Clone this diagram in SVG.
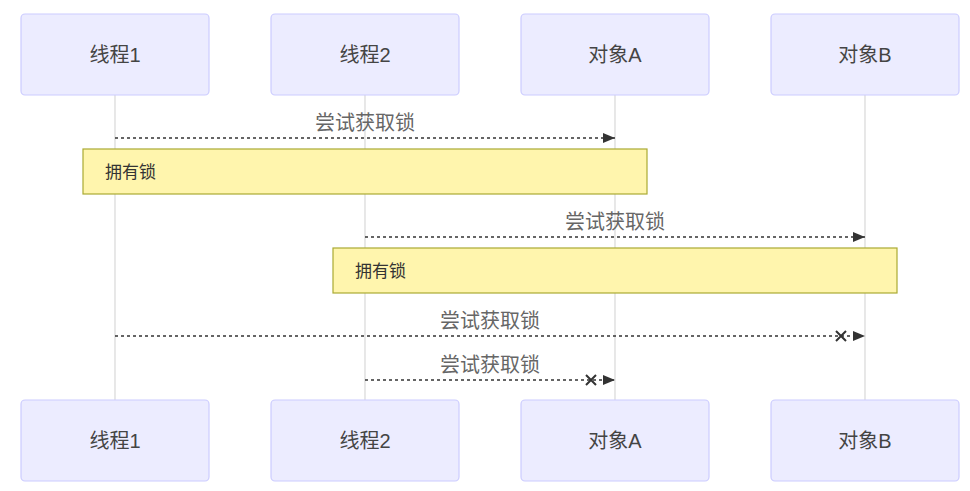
<svg xmlns="http://www.w3.org/2000/svg" width="970" height="491" viewBox="0 0 970 491">
<defs>
<style>
.actor{fill:#ECECFF;stroke:#CCCCFF;stroke-width:1.2}
.atext{font-family:"Liberation Sans","Noto Sans CJK SC",sans-serif;font-size:20px;fill:#444;text-anchor:middle;dominant-baseline:central}
.life{stroke:#D8D8D8;stroke-width:1.2}
.msg{stroke:#333;stroke-width:1.5;stroke-dasharray:3,3;fill:none}
.mtext{font-family:"Liberation Sans","Noto Sans CJK SC",sans-serif;font-size:20px;fill:#666;text-anchor:middle}
.note{fill:#FFF5AD;stroke:#AAAA33;stroke-width:1.2}
.ntext{font-family:"Liberation Sans","Noto Sans CJK SC",sans-serif;font-size:17px;fill:#333;dominant-baseline:central}
.cross{stroke:#333;stroke-width:2;fill:none}
</style>
<marker id="arrow" viewBox="0 0 12 10" refX="12" refY="5" markerWidth="12" markerHeight="10" markerUnits="userSpaceOnUse" orient="auto">
<path d="M0,0 L12,5 L0,10 z" fill="#333"/>
</marker>
</defs>
<rect width="970" height="491" fill="#fff"/>
<g id="lifelines">
<line class="life" x1="115" y1="95" x2="115" y2="400"/>
<line class="life" x1="365" y1="95" x2="365" y2="400"/>
<line class="life" x1="615" y1="95" x2="615" y2="400"/>
<line class="life" x1="865" y1="95" x2="865" y2="400"/>
</g>
<g id="actor-t1-top"><rect class="actor" x="21" y="14" width="188" height="81" rx="4"/><text class="atext" x="115" y="55">线程1</text></g>
<g id="actor-t2-top"><rect class="actor" x="271" y="14" width="188" height="81" rx="4"/><text class="atext" x="365" y="55">线程2</text></g>
<g id="actor-a-top"><rect class="actor" x="521" y="14" width="188" height="81" rx="4"/><text class="atext" x="615" y="55">对象A</text></g>
<g id="actor-b-top"><rect class="actor" x="771" y="14" width="188" height="81" rx="4"/><text class="atext" x="865" y="55">对象B</text></g>
<g id="actor-t1-bottom"><rect class="actor" x="21" y="400" width="188" height="81" rx="4"/><text class="atext" x="115" y="441">线程1</text></g>
<g id="actor-t2-bottom"><rect class="actor" x="271" y="400" width="188" height="81" rx="4"/><text class="atext" x="365" y="441">线程2</text></g>
<g id="actor-a-bottom"><rect class="actor" x="521" y="400" width="188" height="81" rx="4"/><text class="atext" x="615" y="441">对象A</text></g>
<g id="actor-b-bottom"><rect class="actor" x="771" y="400" width="188" height="81" rx="4"/><text class="atext" x="865" y="441">对象B</text></g>
<g id="note1"><rect class="note" x="83" y="149" width="564" height="45"/><text class="ntext" x="105" y="172">拥有锁</text></g>
<g id="note2"><rect class="note" x="333" y="248" width="564" height="45"/><text class="ntext" x="355" y="271">拥有锁</text></g>
<g id="connectors">
<line class="msg" x1="115" y1="138" x2="615" y2="138" marker-end="url(#arrow)"/>
<text class="mtext" x="365" y="130">尝试获取锁</text>
<line class="msg" x1="365" y1="237" x2="865" y2="237" marker-end="url(#arrow)"/>
<text class="mtext" x="615" y="229">尝试获取锁</text>
<line class="msg" x1="115" y1="336" x2="865" y2="336" marker-end="url(#arrow)"/>
<path class="cross" d="M836,331 L846,341 M846,331 L836,341"/>
<text class="mtext" x="490" y="328">尝试获取锁</text>
<line class="msg" x1="365" y1="380" x2="615" y2="380" marker-end="url(#arrow)"/>
<path class="cross" d="M586,375 L596,385 M596,375 L586,385"/>
<text class="mtext" x="490" y="372">尝试获取锁</text>
</g>
</svg>
